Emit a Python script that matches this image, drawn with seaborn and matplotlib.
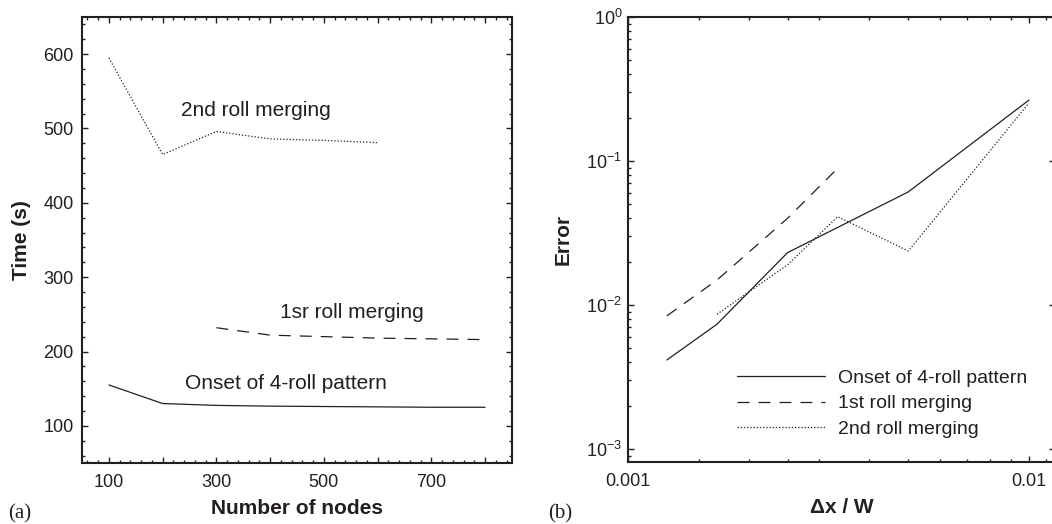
import numpy as np
import pandas as pd
import matplotlib
matplotlib.use("Agg")
import matplotlib.pyplot as plt
from matplotlib.ticker import FixedLocator, MultipleLocator, FuncFormatter, LogLocator
import seaborn as sns

# ---- (a) time vs. number of nodes ----
nodes = [100, 200, 300, 400, 500, 600, 700, 800]
onset_time = [155, 130, 127.5, 126.5, 126, 125.5, 125, 125]
nodes_first = [300, 400, 500, 600, 700, 800]
first_time = [232, 222, 220, 218, 217, 216]
nodes_second = [100, 200, 300, 400, 500, 600]
second_time = [595, 465, 496, 486, 484, 481]

# ---- (b) error vs. grid spacing ----
dx_onset = [1 / 800, 1 / 600, 1 / 400, 1 / 200, 1 / 100]
err_onset = [0.00415, 0.00735, 0.0231, 0.061, 0.265]
dx_first = [1 / 800, 1 / 600, 1 / 400, 1 / 300]
err_first = [0.0084, 0.0149, 0.040, 0.089]
dx_second = [1 / 600, 1 / 400, 1 / 300, 1 / 200, 1 / 100]
err_second = [0.00862, 0.019, 0.041, 0.0237, 0.253]

series_labels = ["Onset of 4-roll pattern", "1st roll merging", "2nd roll merging"]

sns.set_style("ticks")
plt.rcParams["font.family"] = ["Liberation Sans", "DejaVu Sans"]
plt.rcParams["mathtext.fontset"] = "custom"
plt.rcParams["mathtext.rm"] = "Liberation Sans"
plt.rcParams["mathtext.it"] = "Liberation Sans:italic"
plt.rcParams["mathtext.bf"] = "Liberation Sans:bold"
plt.rcParams["lines.scale_dashes"] = False

LW = 0.9
SOLID = "-"
DASHED = (0, (8.6, 6.5))
DOTTED = (0, (0.9, 1.4))
INK = "#231f20"

fig = plt.figure(figsize=(10.52, 5.24), dpi=100)
W, H = 1052, 524
ax1 = fig.add_axes([82 / W, (H - 463) / H, 430 / W, 446 / H])
ax2 = fig.add_axes([628 / W, (H - 462) / H, 427 / W, 445 / H])


def style_frame(ax):
    for s in ax.spines.values():
        s.set_linewidth(1.5)
        s.set_color(INK)
        s.set_visible(True)
    ax.tick_params(which="both", direction="in", top=True, right=True,
                   color=INK, width=1.0, labelsize=13, labelcolor=INK)
    ax.tick_params(which="major", length=4.3)
    ax.tick_params(which="minor", length=2.4)
    ax.set_facecolor("white")


# ---- panel (a) ----
df_on = pd.DataFrame({"nodes": nodes, "time": onset_time})
df_1 = pd.DataFrame({"nodes": nodes_first, "time": first_time})
df_2 = pd.DataFrame({"nodes": nodes_second, "time": second_time})
sns.lineplot(data=df_on, x="nodes", y="time", ax=ax1, color=INK, lw=LW, linestyle=SOLID)
sns.lineplot(data=df_1, x="nodes", y="time", ax=ax1, color=INK, lw=LW, linestyle=DASHED)
sns.lineplot(data=df_2, x="nodes", y="time", ax=ax1, color=INK, lw=LW, linestyle=DOTTED)

ax1.set_xlim(50, 850)
ax1.set_ylim(50, 650)
ax1.xaxis.set_major_locator(MultipleLocator(100))
ax1.xaxis.set_minor_locator(MultipleLocator(20))
ax1.xaxis.set_major_formatter(FuncFormatter(lambda v, p: f"{int(v)}" if int(round(v)) % 200 == 100 else ""))
ax1.yaxis.set_major_locator(MultipleLocator(100))
ax1.yaxis.set_minor_locator(MultipleLocator(20))
ax1.yaxis.set_major_formatter(FuncFormatter(lambda v, p: f"{int(v)}" if 100 <= v <= 600 else ""))
style_frame(ax1)
ax1.tick_params(axis="x", pad=8)
ax1.tick_params(axis="y", pad=6)
ax1.set_xlabel("Number of nodes", fontsize=15, fontweight="bold", color=INK, labelpad=6)
ax1.set_ylabel("Time (s)", fontsize=15, fontweight="bold", color=INK, labelpad=9)

ax1.text(235, 524, "2nd roll merging", fontsize=15, color=INK, ha="left", va="center")
ax1.text(418, 252, "1sr roll merging", fontsize=15, color=INK, ha="left", va="center")
ax1.text(242, 157, "Onset of 4-roll pattern", fontsize=15, color=INK, ha="left", va="center")

# ---- panel (b) ----
ax2.set_xscale("log")
ax2.set_yscale("log")
df_e0 = pd.DataFrame({"dx": dx_onset, "err": err_onset})
df_e1 = pd.DataFrame({"dx": dx_first, "err": err_first})
df_e2 = pd.DataFrame({"dx": dx_second, "err": err_second})
sns.lineplot(data=df_e0, x="dx", y="err", ax=ax2, color=INK, lw=LW, linestyle=SOLID, label=series_labels[0])
sns.lineplot(data=df_e1, x="dx", y="err", ax=ax2, color=INK, lw=LW, linestyle=DASHED, label=series_labels[1])
sns.lineplot(data=df_e2, x="dx", y="err", ax=ax2, color=INK, lw=LW, linestyle=DOTTED, label=series_labels[2])

ax2.set_xlim(0.001, 0.01161)
ax2.set_ylim(8.12e-4, 1.0)
ax2.xaxis.set_major_locator(FixedLocator([0.001, 0.01]))
ax2.xaxis.set_major_formatter(FuncFormatter(lambda v, p: "0.001" if abs(v - 0.001) < 1e-9 else ("0.01" if abs(v - 0.01) < 1e-9 else "")))
ax2.xaxis.set_minor_locator(FixedLocator([0.0015, 0.002, 0.0025, 0.003, 0.004, 0.005,
                                          0.006, 0.007, 0.008, 0.009, 0.011]))
ax2.xaxis.set_minor_formatter(FuncFormatter(lambda v, p: ""))
ax2.yaxis.set_major_locator(LogLocator(base=10, numticks=10))
ax2.yaxis.set_minor_locator(LogLocator(base=10, subs=np.arange(2, 10), numticks=10))
ax2.yaxis.set_major_formatter(FuncFormatter(lambda v, p: r"$10^{%d}$" % int(round(np.log10(v)))))
style_frame(ax2)
ax2.tick_params(axis="x", pad=8)
ax2.tick_params(axis="y", pad=4)
ax2.set_xlabel("\u0394x / W", fontsize=15, fontweight="bold", color=INK, labelpad=6)
ax2.set_ylabel("Error", fontsize=15, fontweight="bold", color=INK, labelpad=10)

leg = ax2.legend(loc="upper left", bbox_to_anchor=((737 - 628) / 427, (462 - 369) / 445),
                 frameon=False, fontsize=14, handlelength=4.5, handletextpad=0.7,
                 labelspacing=0.42, borderpad=0, borderaxespad=0)
for t in leg.get_texts():
    t.set_color(INK)

fig.text(8 / W, 1 - 514 / H, "(a)", fontsize=15, family=["Liberation Serif"], color=INK, ha="left", va="center")
fig.text(548 / W, 1 - 514 / H, "(b)", fontsize=15, family=["Liberation Serif"], color=INK, ha="left", va="center")

fig.savefig("out.png", dpi=100, facecolor="white")
